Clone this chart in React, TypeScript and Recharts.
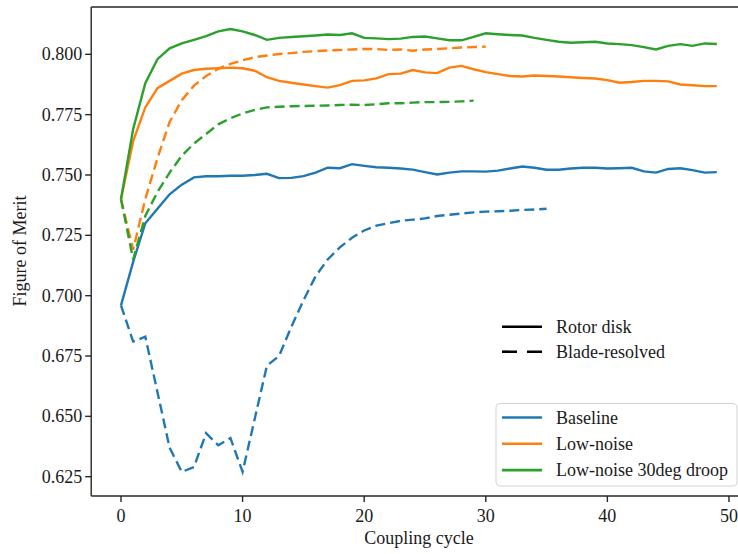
import React from 'react';
import { LineChart, Line, XAxis, YAxis, ReferenceLine } from 'recharts';

// coupling cycle index (x values)
const cycles = [
  0, 1, 2, 3, 4, 5, 6, 7, 8, 9, 10, 11, 12, 13, 14, 15, 16, 17, 18, 19, 20, 21, 22, 23, 24,
  25, 26, 27, 28, 29, 30, 31, 32, 33, 34, 35, 36, 37, 38, 39, 40, 41, 42, 43, 44, 45, 46, 47, 48, 49,
];

// Rotor disk runs (solid)
const baselineDisk = [
  0.696, 0.714, 0.73, 0.736, 0.742, 0.746, 0.749, 0.7495, 0.7495, 0.7497, 0.7497, 0.75, 0.7505,
  0.7487, 0.7488, 0.7495, 0.751, 0.753, 0.7528, 0.7545, 0.7538, 0.7532, 0.753, 0.7527, 0.7522,
  0.7512, 0.7502, 0.751, 0.7515, 0.7515, 0.7514, 0.7518, 0.7527, 0.7535, 0.753, 0.7522, 0.7522,
  0.7527, 0.753, 0.753, 0.7527, 0.7528, 0.753, 0.7515, 0.751, 0.7525, 0.7528, 0.752, 0.751, 0.7512,
];
const lowNoiseDisk = [
  0.74, 0.764, 0.778, 0.786, 0.789, 0.792, 0.7935, 0.794, 0.7942, 0.7945, 0.7942, 0.7932, 0.7905,
  0.789, 0.7882, 0.7875, 0.7868, 0.7862, 0.7872, 0.789, 0.7892, 0.79, 0.7918, 0.792, 0.7935,
  0.7925, 0.7922, 0.7945, 0.7952, 0.7938, 0.7926, 0.7918, 0.791, 0.7908, 0.7912, 0.791, 0.7908,
  0.7905, 0.7902, 0.79, 0.7893, 0.7882, 0.7885, 0.789, 0.789, 0.7888, 0.7875, 0.7872, 0.7868, 0.7868,
];
const droopDisk = [
  0.74, 0.769, 0.788, 0.798, 0.8025, 0.8045, 0.806, 0.8075, 0.8095, 0.8105, 0.8095, 0.808, 0.806,
  0.8068, 0.8072, 0.8075, 0.8078, 0.8082, 0.808, 0.8087, 0.8068, 0.8066, 0.8063, 0.8065, 0.8072,
  0.8074, 0.8066, 0.8058, 0.8058, 0.8072, 0.8087, 0.8083, 0.808, 0.8078, 0.8068, 0.806, 0.8052,
  0.8048, 0.805, 0.8052, 0.8045, 0.8042, 0.8038, 0.803, 0.802, 0.8035, 0.8042, 0.8035, 0.8045, 0.8043,
];

// Blade-resolved runs (dashed), shorter
const baselineBlade = [
  0.696, 0.681, 0.683, 0.66, 0.637, 0.627, 0.629, 0.643, 0.638, 0.641, 0.627, 0.649, 0.671, 0.675,
  0.687, 0.698, 0.708, 0.715, 0.72, 0.724, 0.727, 0.729, 0.73, 0.731, 0.7315, 0.732, 0.733, 0.7335,
  0.734, 0.7345, 0.7348, 0.735, 0.7352, 0.7355, 0.7357, 0.736,
];
const lowNoiseBlade = [
  0.74, 0.719, 0.74, 0.757, 0.772, 0.781, 0.787, 0.791, 0.794, 0.796, 0.7975, 0.7988, 0.7995,
  0.8001, 0.8005, 0.801, 0.8013, 0.8016, 0.8018, 0.802, 0.8022, 0.8022, 0.8018, 0.802, 0.8015,
  0.802, 0.8022, 0.8025, 0.8028, 0.803, 0.8032,
];
const droopBlade = [
  0.74, 0.715, 0.733, 0.743, 0.751, 0.758, 0.763, 0.767, 0.771, 0.7735, 0.7755, 0.777, 0.778,
  0.7783, 0.7785, 0.7786, 0.7787, 0.7788, 0.779, 0.7791, 0.779, 0.7793, 0.7797, 0.7797, 0.78,
  0.7802, 0.7802, 0.7803, 0.7805, 0.7808,
];

const xTicks = [0, 10, 20, 30, 40, 50];
const yTicks = [0.625, 0.65, 0.675, 0.7, 0.725, 0.75, 0.775, 0.8];

const colorLegend = [
  { name: 'Baseline', color: '#1f77b4' },
  { name: 'Low-noise', color: '#ff7f0e' },
  { name: 'Low-noise 30deg droop', color: '#2ca02c' },
];

const FONT = "'Liberation Serif', 'Times New Roman', serif";
const AXIS = '#262626';
const Y_MAX = 0.8196;

const rows = cycles.map((c, i) => ({
  cycle: c,
  baselineDisk: baselineDisk[i] ?? null,
  baselineBlade: baselineBlade[i] ?? null,
  lowNoiseDisk: lowNoiseDisk[i] ?? null,
  lowNoiseBlade: lowNoiseBlade[i] ?? null,
  droopDisk: droopDisk[i] ?? null,
  droopBlade: droopBlade[i] ?? null,
}));

const series = [
  { key: 'baselineDisk', color: '#1f77b4', dashed: false },
  { key: 'baselineBlade', color: '#1f77b4', dashed: true },
  { key: 'lowNoiseDisk', color: '#ff7f0e', dashed: false },
  { key: 'lowNoiseBlade', color: '#ff7f0e', dashed: true },
  { key: 'droopDisk', color: '#2ca02c', dashed: false },
  { key: 'droopBlade', color: '#2ca02c', dashed: true },
];

function XTick(props: any) {
  const { x, y, payload } = props;
  return (
    <text x={x} y={y + 13} textAnchor="middle" fontSize={18} fill="#1a1a1a">
      {payload.value}
    </text>
  );
}

function YTick(props: any) {
  const { x, y, payload } = props;
  return (
    <text x={x} y={y + 6} textAnchor="end" fontSize={18} fill="#1a1a1a">
      {Number(payload.value).toFixed(3)}
    </text>
  );
}

export default function App() {
  return (
    <div
      className="fom-chart"
      style={{
        position: 'absolute',
        left: 0,
        top: 0,
        width: 738,
        height: 554,
        overflow: 'hidden',
        background: '#fff',
        fontFamily: FONT,
      }}
    >
      <style>{`.fom-chart text { font-family: ${FONT} !important; }`}</style>
      <LineChart
        width={760}
        height={554}
        data={rows}
        margin={{ top: 7, right: 13.4, bottom: 0, left: 0 }}
      >
        <XAxis
          dataKey="cycle"
          type="number"
          domain={[-2.45, 51.45]}
          ticks={xTicks}
          allowDataOverflow
          height={58}
          tick={<XTick />}
          tickSize={6}
          tickMargin={7}
          stroke={AXIS}
          strokeWidth={1.4}
        />
        <YAxis
          type="number"
          domain={[0.617, Y_MAX]}
          ticks={yTicks}
          allowDataOverflow
          width={91.2}
          tick={<YTick />}
          tickSize={6}
          tickMargin={3}
          stroke={AXIS}
          strokeWidth={1.4}
        />
        <ReferenceLine y={Y_MAX} stroke={AXIS} strokeWidth={1.4} ifOverflow="visible" />
        {series.map((s) => (
          <Line
            key={s.key}
            type="linear"
            dataKey={s.key}
            stroke={s.color}
            strokeWidth={2.4}
            strokeDasharray={s.dashed ? '10 5' : undefined}
            dot={false}
            activeDot={false}
            isAnimationActive={false}
          />
        ))}
      </LineChart>

      <svg
        width={738}
        height={554}
        style={{ position: 'absolute', left: 0, top: 0, pointerEvents: 'none' }}
        fontSize={18}
        fill="#1a1a1a"
      >
        <text x={419} y={544} textAnchor="middle">
          Coupling cycle
        </text>
        <text transform="translate(26,251) rotate(-90)" textAnchor="middle">
          Figure of Merit
        </text>

        {/* line style legend */}
        <line x1={502} x2={542} y1={326.7} y2={326.7} stroke="#000" strokeWidth={2.6} />
        <text x={556} y={333}>Rotor disk</text>
        <line
          x1={502}
          x2={542}
          y1={351.7}
          y2={351.7}
          stroke="#000"
          strokeWidth={2.6}
          strokeDasharray="15 10"
        />
        <text x={556} y={358}>Blade-resolved</text>

        {/* configuration legend */}
        <rect
          x={496}
          y={403.5}
          width={241}
          height={82.5}
          rx={4}
          fill="#fff"
          fillOpacity={0.8}
          stroke="#d4d4d4"
          strokeWidth={1}
        />
        {colorLegend.map((c, i) => {
          const y = 417.5 + i * 26.3;
          return (
            <g key={c.name}>
              <line x1={502} x2={542} y1={y} y2={y} stroke={c.color} strokeWidth={2.6} />
              <text x={556} y={y + 6.3}>
                {c.name}
              </text>
            </g>
          );
        })}
      </svg>
    </div>
  );
}
